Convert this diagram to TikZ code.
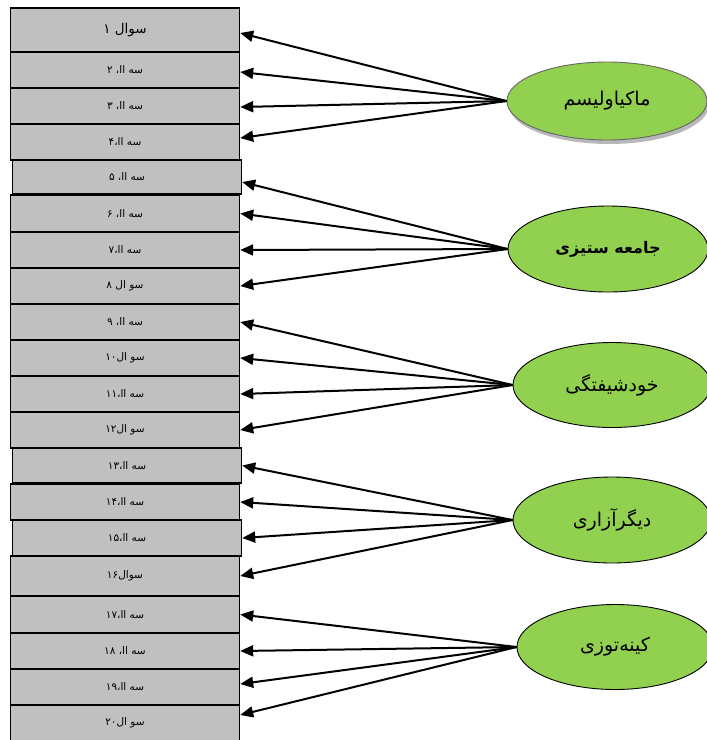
\documentclass[tikz,border=0pt]{standalone}
\usepackage{fontspec}
\usetikzlibrary{shapes.geometric,arrows.meta,shadows}
\TeXXeTstate=1
\newfontfamily\arabicfont[Script=Arabic]{DejaVu Sans}
\definecolor{boxgray}{HTML}{C0C0C0}
\definecolor{elgreen}{HTML}{92D050}
\begin{document}
\begin{tikzpicture}[x=1pt,y=-1pt,
  qbox/.style={rectangle, draw=black, line width=1.4pt, fill=boxgray, minimum width=229pt, inner sep=0pt,
    font=\arabicfont\fontsize{10.5}{12}\selectfont},
  elli/.style={ellipse, draw=black, line width=0.9pt, fill=elgreen, inner sep=0pt,
    font=\arabicfont\fontsize{19}{22}\selectfont},
  arr/.style={-{Triangle[length=13pt,width=11pt]}, line width=2pt, draw=black}]
\useasboundingbox (0,0) rectangle (707,740);
% question boxes
\node[qbox, minimum height=44, font=\arabicfont\fontsize{13.5}{15}\selectfont] (b1) at (125,30) {\beginR سوال ۱\endR};
\node[qbox, minimum height=36] (b2) at (125,70) {\beginR سه اا، ۲\endR};
\node[qbox, minimum height=36] (b3) at (125,106) {\beginR سه اا، ۳\endR};
\node[qbox, minimum height=36] (b4) at (125,142) {\beginR سه اا،۴\endR};
\node[qbox, minimum height=34] (b5) at (127,177) {\beginR سه اا، ۵\endR};
\node[qbox, minimum height=37] (b6) at (125,213.5) {\beginR سه اا، ۶\endR};
\node[qbox, minimum height=36] (b7) at (125,250) {\beginR سه اا،۷\endR};
\node[qbox, minimum height=36] (b8) at (125,286) {\beginR سو ال ۸\endR};
\node[qbox, minimum height=36] (b9) at (125,322) {\beginR سه اا، ۹\endR};
\node[qbox, minimum height=36] (b10) at (125,358) {\beginR سو ال۱۰\endR};
\node[qbox, minimum height=36] (b11) at (125,394) {\beginR سه اا،۱۱\endR};
\node[qbox, minimum height=36] (b12) at (125,430) {\beginR سو ال۱۲\endR};
\node[qbox, minimum height=35] (b13) at (127,465.5) {\beginR سه اا،۱۳\endR};
\node[qbox, minimum height=36] (b14) at (125,502) {\beginR سه اا،۱۴\endR};
\node[qbox, minimum height=36] (b15) at (127,538) {\beginR سه اا،۱۵\endR};
\node[qbox, minimum height=40] (b16) at (125,576) {\beginR سوال۱۶\endR};
\node[qbox, minimum height=37] (b17) at (125,614.5) {\beginR سه اا،۱۷\endR};
\node[qbox, minimum height=36] (b18) at (125,651) {\beginR سه اا، ۱۸\endR};
\node[qbox, minimum height=36] (b19) at (125,687) {\beginR سه اا،۱۹\endR};
\node[qbox, minimum height=36] (b20) at (125,723) {\beginR سو ال۲۰\endR};
% factor ellipses
\node[elli, draw=gray!80!black, minimum width=200, minimum height=78,
  drop shadow={shadow xshift=2pt, shadow yshift=-4pt, fill=gray!70, opacity=0.8}] (e1) at (607,101) {\beginR ماکیاولیسم\endR};
\node[elli, minimum width=200, minimum height=86, font=\arabicfont\bfseries\fontsize{16}{19}\selectfont] (e2) at (608,249) {\beginR جامعه ستیزی\endR};
\node[elli, minimum width=198, minimum height=85] (e3) at (612,385) {\beginR خودشیفتگی\endR};
\node[elli, minimum width=198, minimum height=86] (e4) at (612,520) {\beginR دیگرآزاری\endR};
\node[elli, minimum width=196, minimum height=85] (e5) at (615,647) {\beginR کینه‌توزی\endR};
% connectors
\draw[arr] (e1.west) -- ([yshift=-3pt]b1.east);
\draw[arr] (e1.west) -- ([yshift=-2pt]b2.east);
\draw[arr] (e1.west) -- ([yshift=-1pt]b3.east);
\draw[arr] (e1.west) -- ([yshift=4pt]b4.east);
\draw[arr] (e2.west) -- ([yshift=-5pt]b5.east);
\draw[arr] (e2.west) -- (b6.east);
\draw[arr] (e2.west) -- (b7.east);
\draw[arr] (e2.west) -- (b8.east);
\draw[arr] (e3.west) -- (b9.east);
\draw[arr] (e3.west) -- (b10.east);
\draw[arr] (e3.west) -- (b11.east);
\draw[arr] (e3.west) -- (b12.east);
\draw[arr] (e4.west) -- (b13.east);
\draw[arr] (e4.west) -- (b14.east);
\draw[arr] (e4.west) -- (b15.east);
\draw[arr] (e4.west) -- (b16.east);
\draw[arr] (e5.west) -- (b17.east);
\draw[arr] (e5.west) -- (b18.east);
\draw[arr] (e5.west) -- ([yshift=3pt]b19.east);
\draw[arr] (e5.west) -- ([yshift=8pt]b20.east);
\end{tikzpicture}
\end{document}
